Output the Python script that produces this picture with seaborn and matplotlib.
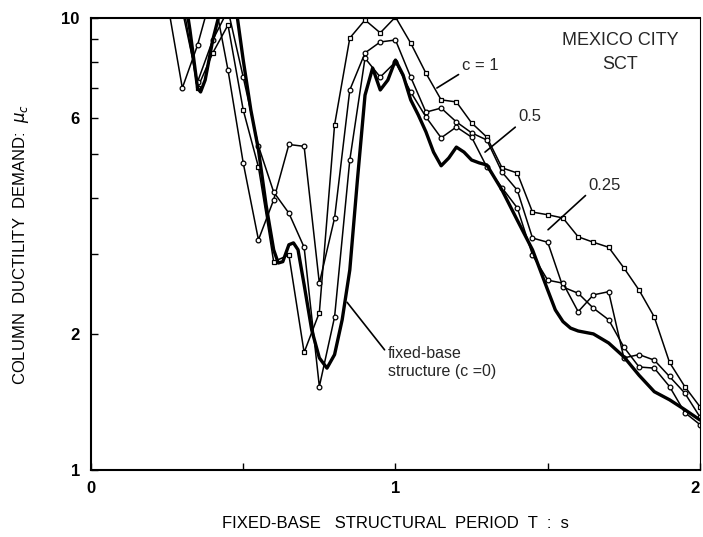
import numpy as np
import pandas as pd
import matplotlib
matplotlib.use("Agg")
import matplotlib.pyplot as plt
import seaborn as sns
from matplotlib.ticker import FixedLocator, NullFormatter, FixedFormatter

# ---------------- data ----------------
T_grid = [0.25, 0.30, 0.35, 0.40, 0.45, 0.50, 0.55, 0.60, 0.65, 0.70, 0.75, 0.80,
          0.85, 0.90, 0.95, 1.00, 1.05, 1.10, 1.15, 1.20, 1.25, 1.30, 1.35, 1.40,
          1.45, 1.50, 1.55, 1.60, 1.65, 1.70, 1.75, 1.80, 1.85, 1.90, 1.95, 2.00]

mu_c1 = [None, 10.96, 7.00, 8.37, 9.65, 6.26, 4.68, 2.89, 2.99, 1.82, 2.23, 5.80,
         9.03, 9.90, 9.27, 10.05, 8.80, 7.55, 6.59, 6.52, 5.86, 5.45, 4.66, 4.54,
         3.72, 3.67, 3.61, 3.28, 3.19, 3.11, 2.80, 2.50, 2.18, 1.73, 1.53, 1.38]

mu_c05 = [10.96, 7.00, 8.71, 11.53, 7.67, 4.78, 3.23, 3.96, 5.25, 5.20, 2.59, 3.61,
          6.93, 8.37, 8.85, 8.94, 7.40, 6.19, 6.32, 5.89, 5.57, 5.37, 4.56, 4.16,
          3.26, 3.19, 2.54, 2.46, 2.28, 2.15, 1.87, 1.69, 1.68, 1.53, 1.34, 1.26]

mu_c025 = [None, 10.40, 7.22, 8.94, 10.42, 7.40, 5.21, 4.12, 3.70, 3.11, 1.53, 2.18,
           4.85, 8.15, 7.40, 7.99, 6.86, 6.04, 5.43, 5.74, 5.45, 4.68, 4.21, 3.80,
           2.99, 2.63, 2.59, 2.24, 2.44, 2.48, 1.77, 1.80, 1.75, 1.61, 1.48, 1.31]

T_fixed = [0.300, 0.325, 0.350, 0.360, 0.375, 0.400, 0.425, 0.450, 0.475, 0.500,
           0.525, 0.550, 0.575, 0.600, 0.615, 0.630, 0.650, 0.665, 0.680, 0.700,
           0.725, 0.750, 0.775, 0.800, 0.825, 0.850, 0.875, 0.900, 0.925, 0.950,
           0.975, 1.000, 1.025, 1.050, 1.075, 1.100, 1.125, 1.150, 1.175, 1.200,
           1.225, 1.250, 1.275, 1.300, 1.350, 1.400, 1.450, 1.500, 1.525, 1.550,
           1.575, 1.600, 1.650, 1.700, 1.750, 1.800, 1.850, 1.900, 1.950, 2.000]
mu_fixed = [12.14, 9.41, 7.00, 6.86, 7.29, 8.94, 10.42, 11.24, 10.69, 8.07,
            6.26, 5.11, 3.86, 3.07, 2.87, 2.89, 3.15, 3.18, 3.07, 2.57,
            2.04, 1.77, 1.68, 1.80, 2.15, 2.77, 4.38, 6.75, 7.75, 6.93,
            7.29, 8.07, 7.48, 6.59, 6.10, 5.60, 5.05, 4.71, 4.90, 5.18,
            5.05, 4.85, 4.78, 4.73, 4.16, 3.57, 3.07, 2.50, 2.26, 2.13,
            2.06, 2.03, 2.00, 1.91, 1.78, 1.62, 1.49, 1.43, 1.36, 1.29]

y_ticks = [1, 2, 6, 10]
y_minor = [3, 4, 5, 7, 8, 9]
x_ticks = [0, 1, 2]
x_minor = [0.5, 1.5]

# ---------------- style ----------------
sns.set_theme(style="ticks")
plt.rcParams['font.family'] = ['Liberation Sans', 'DejaVu Sans']
plt.rcParams['mathtext.fontset'] = 'dejavusans'

fig = plt.figure(figsize=(7.03, 5.37), dpi=100)
ax = fig.add_axes([0.1294, 0.1248, 0.8663, 0.8417])

def series(T, mu):
    return pd.DataFrame({"T": T, "mu": mu}).dropna()

mk = dict(markersize=3.4, markerfacecolor='white', markeredgecolor='black',
          markeredgewidth=0.9)
for vals, m in [(mu_c1, 's'), (mu_c05, 'o'), (mu_c025, 'o')]:
    d = series(T_grid, vals)
    sns.lineplot(data=d, x="T", y="mu", ax=ax, color='black', lw=1.1,
                 marker=m, estimator=None, sort=False, **mk)

d0 = series(T_fixed, mu_fixed)
sns.lineplot(data=d0, x="T", y="mu", ax=ax, color='black', lw=2.4,
             estimator=None, sort=False)

ax.set_yscale('log')
ax.set_xlim(0, 2)
ax.set_ylim(1, 10)

ax.yaxis.set_major_locator(FixedLocator(y_ticks))
ax.yaxis.set_major_formatter(FixedFormatter([str(v) for v in y_ticks]))
ax.yaxis.set_minor_locator(FixedLocator(y_minor))
ax.yaxis.set_minor_formatter(NullFormatter())
ax.xaxis.set_major_locator(FixedLocator(x_ticks))
ax.xaxis.set_major_formatter(FixedFormatter([str(v) for v in x_ticks]))
ax.xaxis.set_minor_locator(FixedLocator(x_minor))

ax.tick_params(which='both', direction='in', width=1.0, length=5,
               labelsize=12, pad=8, color='black', labelcolor='black')
fig.canvas.draw()
xlabs = ax.get_xticklabels()
for lab in xlabs + ax.get_yticklabels():
    lab.set_fontweight('bold')
xlabs[-1].set_horizontalalignment('right')

for s in ['left', 'bottom', 'top']:
    ax.spines[s].set_linewidth(1.5)
    ax.spines[s].set_color('black')
ax.spines['right'].set_linewidth(0.8)
ax.spines['right'].set_color('black')

ax.set_xlabel("FIXED-BASE   STRUCTURAL  PERIOD  T  :  s", fontsize=12,
              labelpad=14, color='black')
ax.set_ylabel(r"COLUMN  DUCTILITY  DEMAND:  $\mu_c$", fontsize=12,
              labelpad=22, color='black')

# annotations
ax.text(1.737, 8.90, "MEXICO CITY", ha='center', va='center', fontsize=13)
ax.text(1.737, 7.91, "SCT", ha='center', va='center', fontsize=13)

arrow = dict(arrowstyle='-', lw=1.2, color='black', shrinkA=0, shrinkB=0)
ax.annotate("c = 1", xy=(1.136, 7.00), xytext=(1.278, 7.87), ha='center',
            va='center', fontsize=12,
            arrowprops=dict(arrow, relpos=(0.0, 0.0)))
ax.annotate("0.5", xy=(1.294, 5.05), xytext=(1.442, 6.04), ha='center',
            va='center', fontsize=12,
            arrowprops=dict(arrow, relpos=(0.0, 0.0)))
ax.annotate("0.25", xy=(1.501, 3.40), xytext=(1.688, 4.27), ha='center',
            va='center', fontsize=12,
            arrowprops=dict(arrow, relpos=(0.0, 0.0)))
ax.annotate("fixed-base\nstructure (c =0)", xy=(0.841, 2.35),
            xytext=(0.975, 1.73), ha='left', va='center', fontsize=11.5,
            linespacing=1.3,
            arrowprops=dict(arrow, relpos=(0.0, 0.75)))

fig.savefig("out.png", dpi=100)
